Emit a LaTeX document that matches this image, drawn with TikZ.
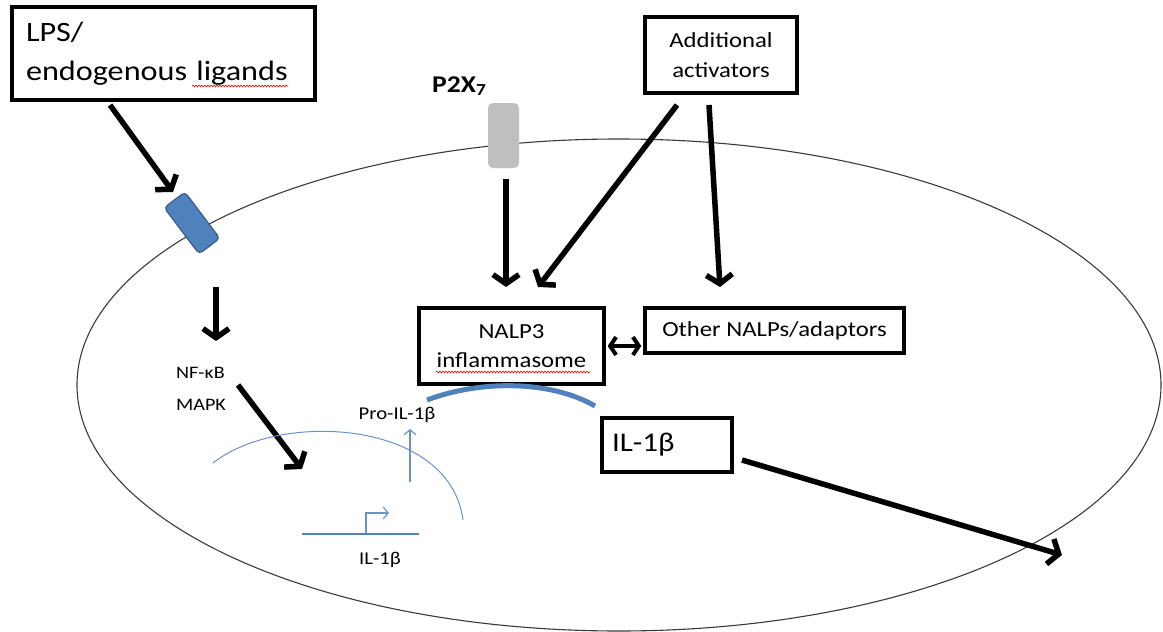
\documentclass[tikz,border=0pt]{standalone}
\usepackage{fontspec}
\setmainfont{Carlito}[FakeStretch=1.15]
\usetikzlibrary{arrows.meta,decorations.pathmorphing}
\definecolor{blueA}{HTML}{4F81BD}
\definecolor{blueD}{HTML}{385D8A}
\definecolor{blueT}{HTML}{6A93C8}
\definecolor{grayR}{HTML}{BFBFBF}
\definecolor{cellline}{HTML}{3A3A3A}
\tikzset{
  box/.style={draw=black, line width=3.4pt, fill=white, inner sep=0pt, align=center},
  arr/.style={line width=5.5pt, -{Straight Barb[length=9pt,width=26pt]}},
  darr/.style={line width=4pt, {Straight Barb[length=6pt,width=18pt]}-{Straight Barb[length=6pt,width=18pt]}},
  thinarr/.style={blueT, line width=1.2pt, -{Straight Barb[length=5pt,width=12pt]}},
  lbl/.style={inner sep=0pt, text=black},
  spell/.style={red, line width=0.6pt, decorate, decoration={snake, amplitude=0.9pt, segment length=3pt}}
}
\begin{document}
\begin{tikzpicture}[x=1pt,y=-1pt]
\useasboundingbox (0,0) rectangle (1163,632);
% cell
\draw[cellline, line width=1.1pt] (619,385) ellipse [x radius=542, y radius=246];
% receptors
\node[draw=blueD, line width=1.2pt, fill=blueA, rounded corners=4pt, minimum width=26pt, minimum height=58pt, rotate=37, inner sep=0pt] (tlr) at (192,223) {};
\node[fill=grayR, rounded corners=5pt, minimum width=31pt, minimum height=65pt, inner sep=0pt] (p2x) at (503.5,135.5) {};
\node[lbl, anchor=west, font=\fontsize{24}{28}\selectfont\bfseries] (p2xl) at (432,86) {P2X\textsubscript{7}};
% boxes
\node[box, minimum width=303pt, minimum height=93pt, text width=275pt, align=left, font=\fontsize{28}{39}\selectfont] (lps) at (163.5,53.5) {LPS/\\endogenous ligands};
\node[box, minimum width=152pt, minimum height=76pt, font=\fontsize{21.5}{30}\selectfont] (add) at (721,55) {Additional\\activators};
\node[box, minimum width=185pt, minimum height=76pt, font=\fontsize{21.5}{29}\selectfont] (nalp) at (511.5,346) {NALP3\\inflammasome};
\node[box, minimum width=259pt, minimum height=45pt, font=\fontsize{21.5}{26}\selectfont] (other) at (774.5,330.5) {Other NALPs/adaptors};
\node[box, minimum width=130pt, minimum height=54pt, font=\fontsize{27}{32}\selectfont, text width=110pt, align=left] (il1) at (667,445) {IL-1β};
% spell-check marks
\draw[spell] (192,86) -- (288,86);
\draw[spell] (436,372) -- (590,372);
% labels
\node[lbl, anchor=west, font=\fontsize{17.5}{20}\selectfont] (nfkb) at (176,373) {NF-κB};
\node[lbl, anchor=west, font=\fontsize{17.5}{20}\selectfont] (mapk) at (176,405) {MAPK};
\node[lbl, font=\fontsize{18}{20}\selectfont] (proil) at (397,415) {Pro-IL-1β};
\node[lbl, font=\fontsize{18}{20}\selectfont] (ilgene) at (380,560) {IL-1β};
% coordinates for arrow ends
\coordinate (a1s) at (110,105); \coordinate (a1e) at (173,192);
\coordinate (a2s) at (216,287); \coordinate (a2e) at (216,341);
\coordinate (a3s) at (238,385); \coordinate (a3e) at (302,469);
\coordinate (a4s) at (506,179); \coordinate (a4e) at (506,287);
\coordinate (a5s) at (677,105); \coordinate (a5e) at (538,287);
\coordinate (a6s) at (709,105); \coordinate (a6e) at (720,287);
\coordinate (a7s) at (742,460); \coordinate (a7e) at (1062,555);
\coordinate (g1) at (302,534); \coordinate (g2) at (419,534);
\coordinate (pr0) at (366,534); \coordinate (pr1) at (366,513); \coordinate (pr2) at (389,513);
\coordinate (up0) at (410,482); \coordinate (up1) at (410,429);
% arrows
\draw[arr] (a1s) -- (a1e);
\draw[arr] (a2s) -- (a2e);
\draw[arr] (a3s) -- (a3e);
\draw[arr] (a4s) -- (a4e);
\draw[arr] (a5s) -- (a5e);
\draw[arr] (a6s) -- (a6e);
\draw[arr] (a7s) -- (a7e);
\draw[darr] ([xshift=2pt]nalp.east) -- ([xshift=-2pt]other.west |- nalp.east);
% nucleus / transcription
\draw[blueT, line width=1pt] (213,463) .. controls (280,410) and (450,420) .. (463,520);
\draw[blueA, line width=2.5pt] (g1) -- (g2);
\draw[thinarr] (pr0) -- (pr1) -- (pr2);
\draw[thinarr] (up0) -- (up1);
% processing arc
\draw[blueA, line width=5pt] (427,400) .. controls (480,380) and (550,380) .. (595,406);
\end{tikzpicture}
\end{document}
